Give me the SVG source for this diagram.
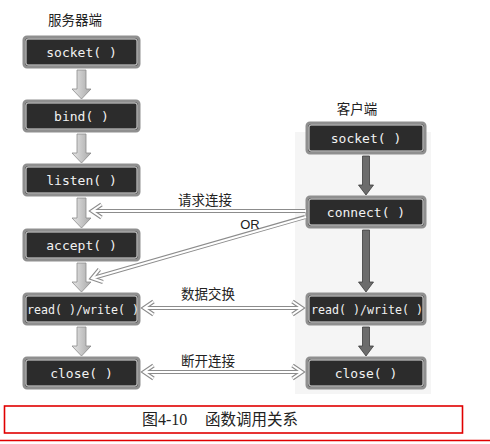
<svg xmlns="http://www.w3.org/2000/svg" width="490" height="444" viewBox="0 0 490 444">
<style>
.bo{fill:#2c2c2c;stroke:#8f8f8f;stroke-width:3}
.bi{fill:none;stroke:#e2e2e2;stroke-width:1}
.bt{fill:#f2f2f2;font-family:"DejaVu Sans Mono","Liberation Mono",monospace;font-size:13px;text-anchor:middle}
.cj{fill:#222;font-family:"Noto Sans CJK SC",sans-serif;font-size:13.5px;text-anchor:middle}
.sa{fill:url(#lg);stroke:#8a8a8a;stroke-width:0.8}
.ca{fill:#6c6c6c;stroke:#3c3c3c;stroke-width:0.8}
.co{fill:none;stroke:#8c8c8c;stroke-width:4.2;stroke-linejoin:miter}
.ci{fill:none;stroke:#ffffff;stroke-width:2;stroke-linejoin:miter}
</style>
<defs>
<linearGradient id="lg" x1="0" y1="0" x2="1" y2="0">
<stop offset="0" stop-color="#e6e6e6"/><stop offset="1" stop-color="#a9a9a9"/>
</linearGradient>
<path id="chev" d="M9.5 -6.5 L0 0 L9.5 6.5"/>
</defs>
<rect width="490" height="444" fill="#ffffff"/>
<rect x="295" y="132" width="136" height="262" fill="#f5f5f5"/>
<text class="cj" x="75" y="25">服务器端</text>
<text class="cj" x="357" y="114">客户端</text>

<g id="s-socket"><rect class="bo" x="24" y="37" width="115" height="30" rx="3"/><rect class="bi" x="26" y="39" width="111" height="26" rx="2"/><text class="bt" x="81.5" y="56.5">socket( )</text></g>
<g id="s-bind"><rect class="bo" x="24" y="101" width="115" height="30" rx="3"/><rect class="bi" x="26" y="103" width="111" height="26" rx="2"/><text class="bt" x="81.5" y="120.5">bind( )</text></g>
<g id="s-listen"><rect class="bo" x="24" y="165" width="115" height="30" rx="3"/><rect class="bi" x="26" y="167" width="111" height="26" rx="2"/><text class="bt" x="81.5" y="184.5">listen( )</text></g>
<g id="s-accept"><rect class="bo" x="24" y="230" width="115" height="30" rx="3"/><rect class="bi" x="26" y="232" width="111" height="26" rx="2"/><text class="bt" x="81.5" y="249.5">accept( )</text></g>
<g id="s-rw"><rect class="bo" x="24" y="294" width="115" height="30" rx="3"/><rect class="bi" x="26" y="296" width="111" height="26" rx="2"/><text class="bt" x="83" y="313.5" textLength="112" lengthAdjust="spacingAndGlyphs">read( )/write( )</text></g>
<g id="s-close"><rect class="bo" x="24" y="358" width="115" height="30" rx="3"/><rect class="bi" x="26" y="360" width="111" height="26" rx="2"/><text class="bt" x="81.5" y="377.5">close( )</text></g>

<g id="c-socket"><rect class="bo" x="307" y="123" width="118" height="30" rx="3"/><rect class="bi" x="309" y="125" width="114" height="26" rx="2"/><text class="bt" x="366" y="142.5">socket( )</text></g>
<g id="c-connect"><rect class="bo" x="307" y="197" width="118" height="30" rx="3"/><rect class="bi" x="309" y="199" width="114" height="26" rx="2"/><text class="bt" x="366" y="216.5">connect( )</text></g>
<g id="c-rw"><rect class="bo" x="307" y="294" width="118" height="30" rx="3"/><rect class="bi" x="309" y="296" width="114" height="26" rx="2"/><text class="bt" x="367" y="313.5" textLength="112" lengthAdjust="spacingAndGlyphs">read( )/write( )</text></g>
<g id="c-close"><rect class="bo" x="307" y="358" width="118" height="30" rx="3"/><rect class="bi" x="309" y="360" width="114" height="26" rx="2"/><text class="bt" x="366" y="377.5">close( )</text></g>

<g id="connectors">
<path class="sa" d="M77 70 H86 V89 H91 L81.5 99 L72 89 H77 Z"/>
<path class="sa" d="M77 134 H86 V153 H91 L81.5 163 L72 153 H77 Z"/>
<path class="sa" d="M77 198 H86 V218 H91 L81.5 228 L72 218 H77 Z"/>
<path class="sa" d="M77 263 H86 V282 H91 L81.5 292 L72 282 H77 Z"/>
<path class="sa" d="M77 327 H86 V346 H91 L81.5 356 L72 346 H77 Z"/>

<path class="ca" d="M362.5 156 H369.5 V185 H373.5 L366 195 L358.5 185 H362.5 Z"/>
<path class="ca" d="M362.5 230 H369.5 V282 H373.5 L366 292 L358.5 282 H362.5 Z"/>
<path class="ca" d="M362.5 327 H369.5 V346 H373.5 L366 356 L358.5 346 H362.5 Z"/>

<g class="co">
<path d="M305 211 H93"/><use href="#chev" transform="translate(92 211)"/>
<path d="M305 217 L93 278"/><use href="#chev" transform="translate(92 278.3) rotate(-16)"/>
<path d="M145 308 H301"/><use href="#chev" transform="translate(144 308)"/><use href="#chev" transform="translate(302 308) rotate(180)"/>
<path d="M145 372 H301"/><use href="#chev" transform="translate(144 372)"/><use href="#chev" transform="translate(302 372) rotate(180)"/>
</g>
<g class="ci">
<path d="M306 211 H93"/><use href="#chev" transform="translate(92 211)"/>
<path d="M306 217 L93 278"/><use href="#chev" transform="translate(92 278.3) rotate(-16)"/>
<path d="M145 308 H301"/><use href="#chev" transform="translate(144 308)"/><use href="#chev" transform="translate(302 308) rotate(180)"/>
<path d="M145 372 H301"/><use href="#chev" transform="translate(144 372)"/><use href="#chev" transform="translate(302 372) rotate(180)"/>
</g>
<text class="cj" x="205" y="205">请求连接</text>
<text x="250" y="229" style="fill:#222;font-family:'Liberation Sans',sans-serif;font-size:13px;text-anchor:middle">OR</text>
<text class="cj" x="208" y="299">数据交换</text>
<text class="cj" x="208" y="366">断开连接</text>
</g>

<rect x="4.5" y="406" width="458" height="27" fill="none" stroke="#e00000" stroke-width="1.6"/>
<line x1="0" y1="440.5" x2="490" y2="440.5" stroke="#e00000" stroke-width="1.6"/>
<text x="142" y="425" style="fill:#222;font-family:'Liberation Serif','Noto Sans CJK SC',serif;font-size:16px">图4-10</text>
<text x="205" y="425" style="fill:#222;font-family:'Noto Sans CJK SC',sans-serif;font-size:15.5px">函数调用关系</text>
</svg>
